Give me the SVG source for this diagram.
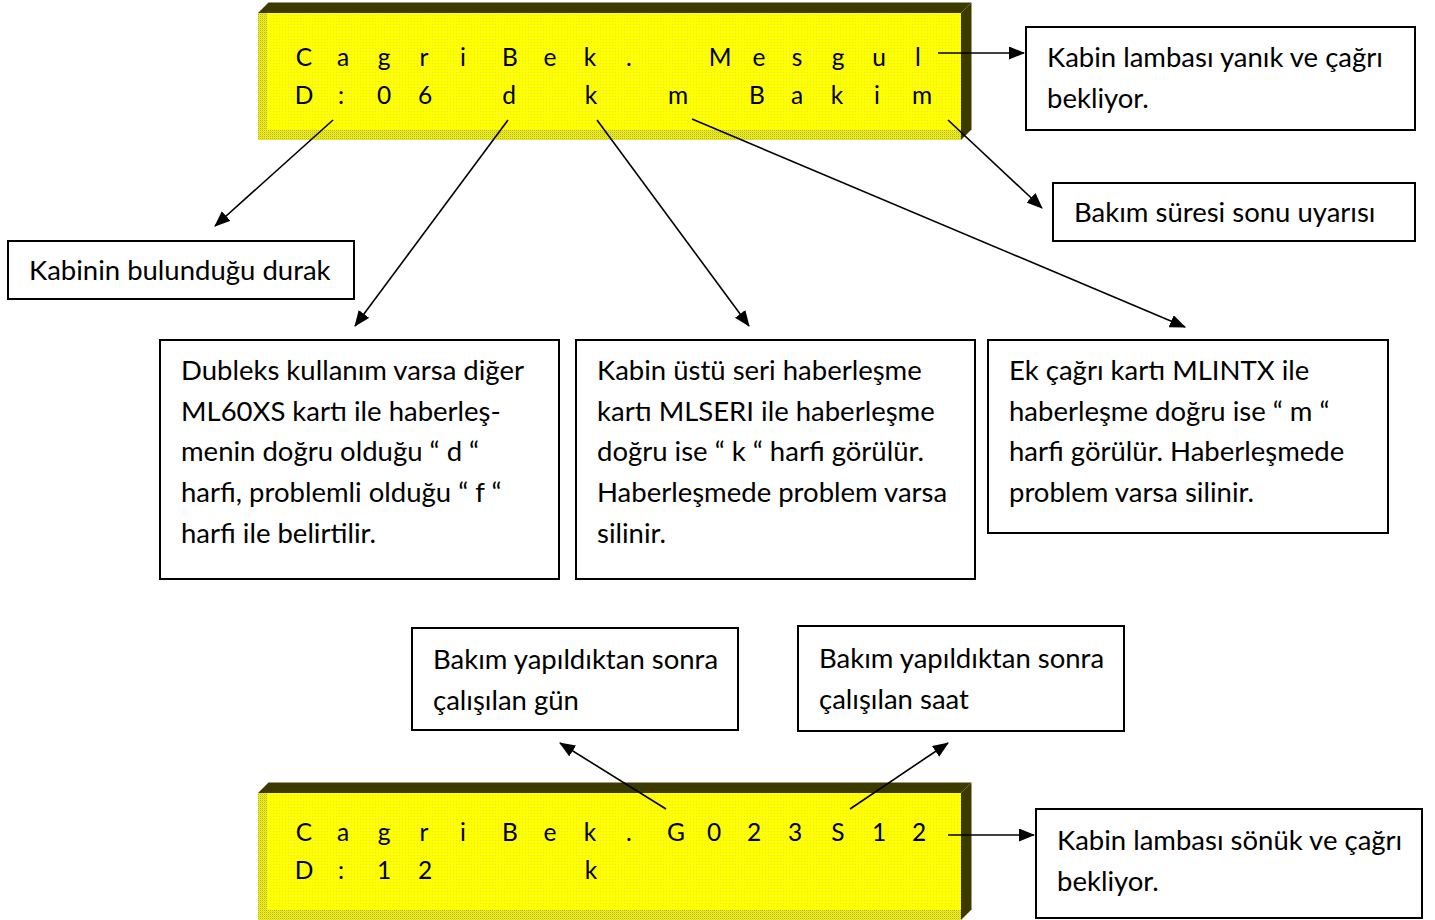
<svg xmlns="http://www.w3.org/2000/svg" width="1435" height="920" viewBox="0 0 1435 920">
<style>
.box{fill:#fff;stroke:#000;stroke-width:2}
.t{font-family:Lato,"Open Sans","Liberation Sans",sans-serif;font-size:27.5px;fill:#000}
.lcdt{font-family:Lato,"Open Sans","Liberation Sans",sans-serif;font-size:24.5px;fill:#000;text-anchor:middle}
.bev{fill:#3d3a00}
.con{stroke:#000;stroke-width:1.6;fill:none;marker-end:url(#ah)}
</style>
<defs>
<marker id="ah" markerWidth="16" markerHeight="13" refX="15" refY="6.5" orient="auto" markerUnits="userSpaceOnUse">
<path d="M0,0 L16,6.5 L0,13 z" fill="#000"/>
</marker>
<pattern id="pFace" width="3" height="3" patternUnits="userSpaceOnUse">
<rect width="3" height="3" fill="#ffff00"/><rect width="1" height="1" fill="#e8e838"/>
</pattern>
<pattern id="pEdge" width="2" height="2" patternUnits="userSpaceOnUse">
<rect width="2" height="2" fill="#f4f400"/><rect width="1" height="1" fill="#b0b050"/><rect x="1" y="1" width="1" height="1" fill="#d8d830"/>
</pattern>
<g id="lcdbody">
<polygon class="bev" points="258,13 268.5,2.5 971.5,2.5 961,13"/>
<polygon class="bev" points="961,13 971.5,2.5 971.5,129.5 961,140"/>
<rect x="258" y="13" width="703" height="127" fill="url(#pFace)"/>
<rect x="258" y="13" width="9" height="127" fill="url(#pEdge)"/>
<rect x="258" y="130" width="703" height="10" fill="url(#pEdge)"/>
</g>
</defs>

<g id="lcd-top">
<use href="#lcdbody"/>
<text class="lcdt" x="304 343 384 424 463 510 550 590 629 670 720 759 797 838 879 918" y="66">CagriBek. Mesgul</text>
<text class="lcdt" x="304 341 384 425 467 509 550 591 632 678 716 757 797 837 877 922" y="104">D:06 d k m Bakim</text>
</g>

<g id="lcd-bottom">
<use href="#lcdbody" transform="translate(0,780)"/>
<text class="lcdt" x="304 343 384 424 463 510 550 590 629 676 714 754 795 838 879 919" y="841">CagriBek.G023S12</text>
<text class="lcdt" x="304 341 384 425 500 591" y="879">D:12 k</text>
</g>

<g id="box-kabin-yanik">
<rect class="box" x="1026" y="27" width="389" height="103"/>
<text class="t" x="1047" y="66.5">Kabin lambası yanık ve çağrı</text>
<text class="t" x="1047" y="107.5">bekliyor.</text>
</g>

<g id="box-bakim-suresi">
<rect class="box" x="1053" y="183" width="362" height="58"/>
<text class="t" x="1074" y="222">Bakım süresi sonu uyarısı</text>
</g>

<g id="box-durak">
<rect class="box" x="8" y="241" width="346" height="58"/>
<text class="t" x="29" y="279.5">Kabinin bulunduğu durak</text>
</g>

<g id="box-dubleks">
<rect class="box" x="160" y="340" width="399" height="239"/>
<text class="t" x="181" y="380">Dubleks kullanım varsa diğer</text>
<text class="t" x="181" y="420.7">ML60XS kartı ile haberleş-</text>
<text class="t" x="181" y="461.4">menin doğru olduğu “ d “</text>
<text class="t" x="181" y="502.1">harfi, problemli olduğu “ f “</text>
<text class="t" x="181" y="542.8">harfi ile belirtilir.</text>
</g>

<g id="box-mlseri">
<rect class="box" x="576" y="340" width="399" height="239"/>
<text class="t" x="597" y="380">Kabin üstü seri haberleşme</text>
<text class="t" x="597" y="420.7">kartı MLSERI ile haberleşme</text>
<text class="t" x="597" y="461.4">doğru ise “ k “ harfi görülür.</text>
<text class="t" x="597" y="502.1">Haberleşmede problem varsa</text>
<text class="t" x="597" y="542.8">silinir.</text>
</g>

<g id="box-mlintx">
<rect class="box" x="988" y="340" width="400" height="193"/>
<text class="t" x="1009" y="380">Ek çağrı kartı MLINTX ile</text>
<text class="t" x="1009" y="420.7">haberleşme doğru ise “ m “</text>
<text class="t" x="1009" y="461.4">harfi görülür. Haberleşmede</text>
<text class="t" x="1009" y="502.1">problem varsa silinir.</text>
</g>

<g id="box-gun">
<rect class="box" x="412" y="628" width="326" height="102"/>
<text class="t" x="433" y="669">Bakım yapıldıktan sonra</text>
<text class="t" x="433" y="710">çalışılan gün</text>
</g>

<g id="box-saat">
<rect class="box" x="798" y="626" width="326" height="105"/>
<text class="t" x="819" y="667.5">Bakım yapıldıktan sonra</text>
<text class="t" x="819" y="708.5">çalışılan saat</text>
</g>

<g id="box-kabin-sonuk">
<rect class="box" x="1036" y="809" width="386" height="109"/>
<text class="t" x="1057" y="850">Kabin lambası sönük ve çağrı</text>
<text class="t" x="1057" y="891">bekliyor.</text>
</g>

<g id="connectors">
<line class="con" x1="938" y1="53" x2="1024" y2="53"/>
<line class="con" x1="948" y1="120" x2="1042" y2="208"/>
<line class="con" x1="333" y1="120" x2="215" y2="226"/>
<line class="con" x1="508" y1="120" x2="355" y2="326"/>
<line class="con" x1="597" y1="120" x2="749" y2="326"/>
<line class="con" x1="692" y1="119" x2="1185" y2="327"/>
<line class="con" x1="666" y1="809" x2="560" y2="743"/>
<line class="con" x1="850" y1="809" x2="948" y2="743"/>
<line class="con" x1="948" y1="835" x2="1034" y2="835"/>
</g>
</svg>
